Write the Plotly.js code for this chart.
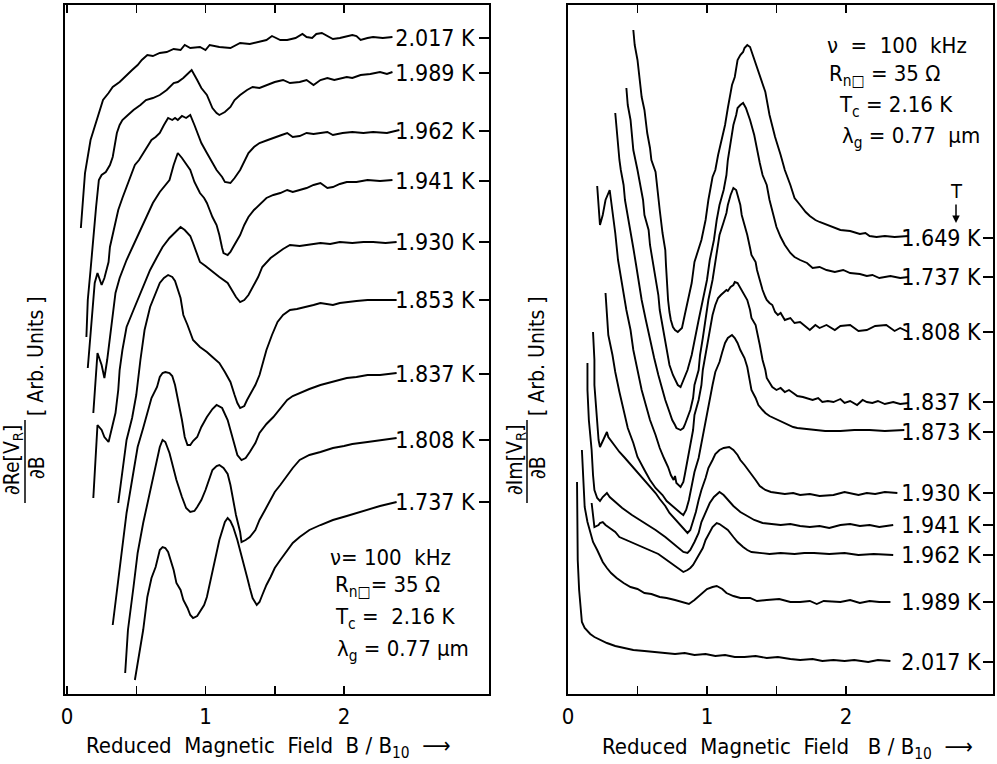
<!DOCTYPE html>
<html>
<head>
<meta charset="utf-8">
<script src="https://cdn.plot.ly/plotly-3.0.1.min.js"></script>
<style>html,body{margin:0;padding:0;background:#fff;}#chart{width:997px;height:764px;}</style>
</head>
<body>
<div id="chart"></div>
<script>
// ---------- LEFT PANEL: dRe[V_R]/dB (x = B/B10, y = arb. units) ----------
const reX_2017 = [0.10,0.13,0.17,0.22,0.26,0.30,0.33,0.38,0.43,0.47,0.51,0.54,0.58,0.62,0.67,0.72,0.77,0.82,0.85,0.89,0.96,1.00,1.03,1.10,1.18,1.25,1.32,1.39,1.44,1.48,1.54,1.59,1.65,1.70,1.73,1.77,1.80,1.84,1.88,1.92,1.97,2.02,2.06,2.09,2.12,2.17,2.21,2.28,2.35];
const reY_2017 = [46.6,52.1,55.4,57.7,59.4,60.1,60.7,61.2,61.9,62.4,62.9,63.4,63.9,63.8,64.1,64.2,64.5,64.4,64.9,64.6,64.7,64.4,64.9,64.7,64.6,65.1,65.0,65.2,65.4,65.8,65.4,65.4,65.6,66.0,65.7,65.6,66.0,66.1,65.8,65.5,65.6,65.8,65.9,65.8,65.4,65.6,65.7,65.6,65.7];

const reX_1989 = [0.14,0.15,0.17,0.18,0.21,0.23,0.25,0.28,0.31,0.33,0.36,0.38,0.40,0.44,0.48,0.53,0.57,0.62,0.67,0.72,0.77,0.80,0.84,0.87,0.90,0.94,0.97,1.01,1.03,1.05,1.08,1.10,1.14,1.18,1.21,1.25,1.30,1.34,1.39,1.44,1.50,1.56,1.61,1.68,1.73,1.78,1.83,1.88,1.93,2.02,2.06,2.12,2.19,2.26,2.31,2.35];
const reY_1989 = [35.7,39.4,42.4,44.1,48.7,51.4,51.9,52.2,52.9,53.7,56.1,56.9,57.4,57.9,58.4,58.9,59.4,59.6,59.9,60.4,61.1,61.2,61.6,62.0,62.4,61.4,60.6,59.9,59.2,58.6,58.1,57.9,58.2,58.7,59.4,59.9,60.4,60.7,60.6,60.9,61.2,61.4,61.1,61.2,61.4,60.9,61.4,61.6,61.4,61.7,61.6,61.9,62.0,62.2,62.0,62.2];

const reX_1962 = [0.15,0.17,0.19,0.20,0.22,0.24,0.25,0.27,0.30,0.31,0.34,0.37,0.40,0.43,0.46,0.49,0.52,0.55,0.58,0.61,0.64,0.67,0.70,0.73,0.76,0.78,0.80,0.83,0.86,0.89,0.92,0.94,0.97,1.01,1.05,1.08,1.12,1.14,1.18,1.21,1.25,1.28,1.31,1.35,1.39,1.45,1.52,1.55,1.59,1.63,1.68,1.73,1.78,1.83,1.88,1.92,1.99,2.06,2.14,2.21,2.31,2.40];
const reY_1962 = [32.6,36.4,39.4,41.1,42.1,41.4,40.9,41.6,43.2,44.7,46.6,48.4,49.6,50.7,51.9,52.9,53.4,54.1,54.7,55.4,55.7,56.1,56.9,57.6,57.4,57.6,57.4,57.8,57.6,57.9,56.9,56.1,55.1,54.1,53.2,52.4,51.7,51.2,51.1,51.6,52.4,53.2,54.1,54.7,55.1,55.4,55.7,55.9,56.1,55.7,55.8,56.1,56.0,56.1,56.2,55.9,56.1,56.2,56.1,56.2,56.1,56.4];

const reX_1941 = [0.19,0.20,0.21,0.22,0.25,0.27,0.29,0.31,0.33,0.35,0.38,0.43,0.48,0.53,0.58,0.62,0.67,0.71,0.74,0.77,0.80,0.83,0.85,0.89,0.92,0.96,0.99,1.01,1.03,1.05,1.08,1.10,1.12,1.13,1.16,1.18,1.20,1.23,1.25,1.28,1.31,1.35,1.39,1.44,1.49,1.54,1.59,1.63,1.68,1.73,1.78,1.83,1.88,1.92,1.97,2.02,2.09,2.17,2.26,2.35];
const reY_1941 = [28.1,30.4,32.6,34.1,32.9,31.6,33.4,35.7,38.1,40.1,41.6,43.4,44.9,46.4,47.9,49.1,50.2,50.9,51.4,52.9,54.1,53.6,53.2,52.4,51.2,50.1,49.6,49.1,48.4,47.7,46.9,45.9,44.6,44.1,43.9,44.2,44.7,45.4,45.9,46.9,47.7,48.4,48.9,49.6,49.9,50.1,50.4,50.2,50.4,50.6,50.9,51.1,50.6,50.7,51.0,51.2,51.2,51.4,51.3,51.4];

const reX_1930 = [0.19,0.20,0.21,0.22,0.25,0.27,0.30,0.32,0.35,0.37,0.38,0.40,0.43,0.48,0.53,0.56,0.60,0.65,0.69,0.74,0.78,0.82,0.85,0.89,0.91,0.94,0.96,1.00,1.05,1.10,1.16,1.19,1.22,1.25,1.28,1.31,1.34,1.38,1.41,1.47,1.52,1.56,1.61,1.68,1.73,1.78,1.83,1.90,1.97,2.06,2.14,2.21,2.30,2.38];
const reY_1930 = [19.6,22.4,24.7,26.9,26.4,25.7,25.2,26.4,28.1,30.4,32.4,34.4,36.7,38.4,40.1,41.2,42.4,43.7,44.7,45.6,46.2,46.7,46.4,45.8,45.1,43.9,43.2,42.8,42.2,41.7,41.1,40.4,39.7,39.2,39.4,39.9,40.7,41.7,42.7,43.6,44.1,44.5,44.9,44.8,44.9,45.0,45.1,45.0,45.2,45.1,45.2,45.2,45.1,45.2];

const reX_1853 = [0.37,0.40,0.43,0.47,0.50,0.53,0.56,0.60,0.64,0.67,0.70,0.73,0.76,0.78,0.82,0.84,0.87,0.89,0.91,0.96,1.01,1.05,1.10,1.14,1.18,1.21,1.23,1.25,1.28,1.30,1.32,1.36,1.39,1.42,1.44,1.48,1.52,1.56,1.61,1.66,1.73,1.78,1.83,1.88,1.92,1.97,2.02,2.09,2.17,2.26,2.38];
const reY_1853 = [19.1,22.4,25.4,27.6,29.9,33.4,36.4,38.7,40.1,41.1,41.6,41.9,41.7,41.3,39.6,37.9,36.9,36.1,35.4,34.7,34.2,33.7,33.1,32.2,31.2,29.9,29.1,28.6,28.8,29.4,29.9,30.9,31.9,33.4,34.4,35.9,37.2,37.9,38.4,38.5,38.7,38.9,39.1,39.0,38.9,39.1,39.2,39.3,39.4,39.4,39.4];

const reX_1837 = [0.33,0.37,0.40,0.43,0.47,0.51,0.55,0.58,0.61,0.65,0.67,0.69,0.71,0.74,0.76,0.78,0.80,0.83,0.85,0.87,0.89,0.91,0.94,0.97,1.01,1.05,1.08,1.12,1.16,1.18,1.20,1.23,1.26,1.29,1.32,1.36,1.39,1.44,1.49,1.54,1.59,1.63,1.68,1.75,1.83,1.92,2.02,2.09,2.17,2.26,2.38];
const reY_1837 = [6.9,11.4,14.7,18.1,21.4,24.7,26.6,28.1,29.6,30.7,31.7,32.1,32.2,32.1,31.8,30.9,29.6,27.4,25.7,24.9,24.9,25.3,25.7,26.7,27.7,28.5,28.9,28.6,27.4,26.4,25.4,23.9,23.4,23.6,24.2,25.1,26.1,27.0,27.7,28.6,29.4,29.8,30.1,30.5,30.9,31.2,31.6,31.7,31.9,31.9,32.1];

const reX_1808 = [0.42,0.44,0.48,0.51,0.55,0.60,0.64,0.67,0.69,0.71,0.74,0.77,0.79,0.83,0.86,0.89,0.92,0.94,0.97,1.00,1.03,1.05,1.08,1.10,1.13,1.16,1.18,1.20,1.22,1.25,1.26,1.29,1.32,1.36,1.39,1.43,1.47,1.50,1.54,1.59,1.63,1.68,1.75,1.83,1.92,2.00,2.06,2.17,2.26,2.38];
const reY_1808 = [2.1,6.4,10.7,14.1,17.1,20.4,22.9,24.7,25.4,25.2,24.1,22.6,21.4,19.7,18.6,18.2,18.3,18.7,19.4,20.4,21.6,22.4,22.8,22.9,22.6,22.0,20.9,19.4,17.9,16.2,15.2,15.4,15.7,16.4,17.4,18.4,19.4,20.2,20.9,21.9,22.6,23.4,23.9,24.2,24.6,24.8,25.0,25.2,25.4,25.6];

const reX_1737 = [0.49,0.51,0.55,0.58,0.61,0.64,0.66,0.67,0.69,0.71,0.73,0.77,0.79,0.82,0.84,0.87,0.89,0.91,0.94,0.96,0.99,1.01,1.03,1.05,1.08,1.10,1.14,1.16,1.18,1.20,1.23,1.25,1.28,1.30,1.32,1.34,1.37,1.39,1.41,1.44,1.47,1.50,1.54,1.59,1.63,1.68,1.75,1.83,1.92,2.02,2.09,2.17,2.26,2.38];
const reY_1737 = [1.4,3.1,6.4,9.7,11.6,12.7,13.8,14.4,14.7,14.6,14.2,12.4,11.1,10.4,9.4,8.6,7.9,7.6,7.8,8.2,8.9,9.7,10.9,12.4,14.1,15.4,17.2,17.6,17.3,16.7,15.4,14.4,12.9,11.7,10.6,9.6,8.9,9.2,9.9,10.9,11.7,12.6,13.4,14.4,15.1,15.7,16.4,16.9,17.4,17.8,18.1,18.4,18.8,19.2];

const reLabels = ['2.017 K','1.989 K','1.962 K','1.941 K','1.930 K','1.853 K','1.837 K','1.808 K','1.737 K'];
const reLabelY = [65.6, 62.1, 56.3, 51.3, 45.2, 39.4, 32.0, 25.4, 19.2];

// ---------- RIGHT PANEL: dIm[V_R]/dB ----------
const imX_1649 = [0.47,0.48,0.50,0.52,0.53,0.55,0.57,0.59,0.60,0.63,0.64,0.66,0.68,0.70,0.705,0.71,0.72,0.73,0.74,0.755,0.77,0.79,0.82,0.84,0.86,0.89,0.91,0.94,0.96,0.99,1.01,1.04,1.06,1.08,1.11,1.13,1.15,1.18,1.20,1.22,1.24,1.26,1.27,1.29,1.31,1.33,1.36,1.40,1.42,1.45,1.49,1.53,1.56,1.60,1.63,1.67,1.71,1.74,1.78,1.81,1.85,1.88,1.96,2.03,2.10,2.14,2.17,2.22,2.28,2.35,2.45];
const imY_1649 = [66.4,64.9,63.4,61.1,59.7,58.4,56.1,54.6,53.4,52.2,51.1,48.4,46.1,44.4,42.9,41.1,39.4,38.2,37.4,36.7,36.4,36.2,36.6,37.9,39.1,41.1,43.2,44.4,45.4,47.4,49.4,51.7,52.4,53.9,55.7,56.9,58.6,60.9,61.7,63.4,63.9,64.2,64.6,64.9,64.7,63.9,62.8,61.2,60.2,57.9,55.7,53.9,52.4,50.9,49.6,48.9,48.2,47.8,47.4,47.2,47.0,46.8,46.4,46.3,46.0,46.1,45.8,45.7,45.8,45.7,45.8];

const imX_1737 = [0.42,0.43,0.45,0.47,0.50,0.52,0.54,0.55,0.58,0.59,0.61,0.63,0.65,0.66,0.68,0.70,0.72,0.73,0.755,0.77,0.79,0.81,0.83,0.86,0.89,0.91,0.94,0.97,1.00,1.02,1.05,1.07,1.09,1.12,1.14,1.15,1.17,1.19,1.21,1.22,1.24,1.26,1.28,1.29,1.31,1.34,1.36,1.38,1.40,1.43,1.45,1.48,1.50,1.53,1.56,1.60,1.63,1.67,1.72,1.76,1.81,1.86,1.92,1.98,2.03,2.10,2.15,2.19,2.24,2.32,2.39,2.45];
const imY_1737 = [60.6,58.9,57.4,54.4,52.4,50.7,49.4,47.9,46.4,44.9,43.2,41.4,39.9,38.4,36.9,35.4,33.9,32.9,31.9,31.4,30.9,30.7,31.4,32.4,33.9,35.4,37.4,39.4,41.4,43.4,45.4,47.4,48.9,50.4,51.9,53.4,55.4,56.9,57.9,58.6,58.9,59.1,58.6,58.2,57.4,55.9,54.4,53.1,51.9,50.9,49.4,47.9,46.7,45.7,44.9,44.1,43.7,43.4,43.1,42.6,42.7,42.4,42.2,42.4,42.1,42.0,41.8,41.9,41.6,41.8,41.6,41.7];

const imX_1808 = [0.34,0.35,0.36,0.37,0.38,0.40,0.41,0.43,0.45,0.47,0.49,0.51,0.53,0.56,0.59,0.62,0.65,0.68,0.70,0.73,0.75,0.77,0.78,0.81,0.83,0.84,0.86,0.88,0.90,0.91,0.94,0.95,0.97,0.99,1.01,1.04,1.06,1.08,1.09,1.12,1.14,1.15,1.17,1.19,1.21,1.22,1.24,1.25,1.27,1.29,1.31,1.32,1.35,1.36,1.38,1.40,1.42,1.43,1.45,1.47,1.49,1.51,1.53,1.56,1.60,1.63,1.67,1.71,1.74,1.78,1.81,1.86,1.92,1.96,2.03,2.09,2.15,2.21,2.29,2.35,2.39,2.45];
const imY_1808 = [58.1,56.4,55.4,53.4,52.4,50.9,49.4,47.9,46.4,44.6,42.9,41.1,39.4,37.4,35.4,33.6,31.9,30.4,29.4,28.2,27.4,26.9,26.6,26.4,26.6,26.9,27.6,28.4,29.6,30.9,32.4,33.9,35.6,37.4,39.4,41.4,43.2,44.9,45.9,47.2,48.1,48.9,49.9,50.6,50.4,49.9,48.9,47.9,46.9,45.9,44.6,43.9,43.2,42.4,41.4,40.4,39.7,39.4,39.1,38.9,38.2,37.9,38.1,37.4,37.6,37.1,37.2,36.7,36.4,36.9,36.6,36.9,36.4,36.8,36.9,36.3,36.4,36.8,36.9,36.3,36.6,36.2];

const imX_1837 = [0.21,0.22,0.23,0.25,0.27,0.30,0.32,0.34,0.36,0.39,0.42,0.45,0.47,0.50,0.53,0.56,0.59,0.63,0.66,0.69,0.72,0.74,0.76,0.77,0.78,0.81,0.83,0.84,0.86,0.88,0.90,0.91,0.94,0.96,0.97,0.99,1.01,1.03,1.04,1.06,1.08,1.10,1.12,1.14,1.15,1.17,1.19,1.20,1.22,1.24,1.25,1.27,1.29,1.31,1.32,1.35,1.36,1.38,1.40,1.42,1.43,1.45,1.47,1.50,1.53,1.56,1.59,1.62,1.65,1.69,1.73,1.76,1.80,1.83,1.87,1.91,1.96,1.99,2.03,2.08,2.12,2.15,2.19,2.23,2.28,2.34,2.39,2.45];
const imY_1837 = [50.8,48.9,46.9,47.9,49.4,50.4,48.4,46.1,43.4,40.7,38.4,36.4,34.4,32.4,30.4,28.9,27.4,25.9,24.6,23.6,22.7,21.9,21.4,21.8,21.1,20.7,21.2,21.9,23.6,24.9,26.4,27.9,29.4,30.9,32.4,33.9,35.4,36.9,37.9,38.9,39.6,39.9,40.2,40.4,40.3,40.7,40.9,41.2,41.1,40.6,40.4,39.8,39.4,38.4,37.6,36.9,36.1,34.9,33.4,32.4,31.6,31.1,30.7,30.4,30.6,30.2,30.4,30.1,29.8,29.7,29.5,29.4,29.6,29.2,29.3,29.2,29.5,29.1,29.3,28.9,29.4,29.2,29.1,29.3,29.0,29.2,29.0,29.1];

const imX_1873 = [0.27,0.28,0.29,0.32,0.34,0.37,0.40,0.43,0.47,0.50,0.55,0.59,0.63,0.68,0.71,0.75,0.78,0.81,0.83,0.85,0.87,0.89,0.91,0.94,0.96,0.98,1.00,1.02,1.04,1.06,1.09,1.11,1.13,1.15,1.18,1.20,1.22,1.24,1.27,1.29,1.31,1.32,1.35,1.37,1.40,1.42,1.45,1.48,1.51,1.55,1.58,1.62,1.65,1.71,1.78,1.85,1.96,2.06,2.17,2.28,2.42];
const imY_1873 = [40.1,37.9,35.9,33.9,32.2,30.2,28.4,26.6,25.1,23.7,22.4,21.4,20.6,19.9,19.3,18.8,18.4,18.1,17.9,18.4,19.4,20.7,22.2,23.6,25.1,26.6,28.2,29.6,30.9,32.2,33.2,34.2,35.1,35.6,35.9,35.6,35.1,34.4,33.6,32.7,31.4,30.4,29.6,28.9,28.4,28.1,27.8,27.6,27.4,27.1,26.9,26.7,26.6,26.5,26.4,26.3,26.3,26.4,26.4,26.3,26.4];

const imX_1930 = [0.18,0.19,0.19,0.20,0.21,0.22,0.23,0.26,0.28,0.29,0.31,0.34,0.37,0.41,0.46,0.50,0.55,0.59,0.63,0.66,0.70,0.73,0.77,0.80,0.83,0.85,0.86,0.88,0.90,0.92,0.94,0.96,0.99,1.01,1.04,1.06,1.09,1.12,1.16,1.19,1.22,1.24,1.27,1.31,1.35,1.38,1.42,1.46,1.50,1.56,1.62,1.67,1.74,1.81,1.91,1.99,2.09,2.15,2.21,2.28,2.37];
const imY_1930 = [36.2,33.4,30.9,28.9,26.9,25.4,24.7,25.6,26.2,25.7,25.3,24.7,24.2,23.6,22.8,22.1,21.4,20.7,20.1,19.5,18.8,18.1,17.5,17.0,16.5,16.2,16.1,16.4,17.2,18.2,19.4,20.4,21.6,22.6,23.4,24.0,24.4,24.6,24.7,24.4,23.9,23.4,22.9,22.2,21.4,20.8,20.4,20.2,20.1,20.0,20.1,19.9,20.0,19.8,19.9,20.2,19.9,20.1,20.0,20.2,20.1];

const imX_1941 = [0.14,0.14,0.15,0.17,0.18,0.19,0.21,0.23,0.25,0.28,0.30,0.34,0.39,0.46,0.52,0.58,0.63,0.70,0.75,0.79,0.83,0.86,0.88,0.91,0.94,0.96,0.99,1.02,1.05,1.07,1.09,1.12,1.15,1.19,1.24,1.29,1.34,1.40,1.45,1.53,1.60,1.67,1.74,1.81,1.88,1.96,2.03,2.10,2.17,2.24,2.34];
const imY_1941 = [33.1,30.4,27.4,24.4,21.9,20.4,19.6,19.3,19.7,20.1,19.7,19.2,18.6,17.9,17.4,16.9,16.4,15.7,15.1,14.6,14.2,14.1,14.4,15.2,16.1,17.2,18.2,19.1,19.7,20.0,20.2,19.9,19.4,18.8,18.2,17.8,17.4,17.1,17.0,16.9,17.0,16.8,16.7,16.8,16.6,16.9,17.0,16.8,16.9,16.7,16.9];

const imX_1962 = [0.17,0.18,0.19,0.22,0.23,0.25,0.27,0.30,0.34,0.37,0.42,0.47,0.52,0.59,0.65,0.71,0.76,0.81,0.83,0.86,0.88,0.90,0.93,0.95,0.97,0.99,1.02,1.04,1.07,1.09,1.12,1.15,1.19,1.22,1.26,1.29,1.32,1.37,1.45,1.53,1.63,1.70,1.77,1.88,1.99,2.09,2.20,2.34];
const imY_1962 = [19.1,17.9,16.7,16.9,17.1,17.2,16.9,16.6,16.2,15.7,15.4,15.1,14.8,14.4,14.0,13.4,12.9,12.4,12.2,12.4,12.6,12.9,13.6,14.1,14.6,15.4,16.2,16.7,17.1,17.0,16.7,16.4,15.7,15.2,14.7,14.4,14.2,14.1,14.0,14.1,14.0,14.1,14.1,14.0,14.1,13.9,14.0,13.9];

const imX_1989 = [0.10,0.11,0.12,0.14,0.16,0.18,0.21,0.23,0.25,0.28,0.31,0.35,0.40,0.45,0.50,0.55,0.60,0.66,0.71,0.77,0.83,0.87,0.91,0.95,0.98,1.00,1.04,1.07,1.11,1.14,1.19,1.24,1.31,1.36,1.43,1.52,1.60,1.67,1.74,1.79,1.84,1.96,2.03,2.10,2.17,2.24,2.32];
const imY_1989 = [24.4,21.4,18.7,17.2,16.1,15.2,14.4,13.8,13.2,12.6,12.1,11.6,11.1,10.7,10.5,10.1,10.0,9.7,9.6,9.4,9.2,9.0,9.4,9.9,10.2,10.5,10.7,10.8,10.5,10.1,9.8,9.6,9.6,9.3,9.4,9.5,9.2,9.2,9.3,9.0,9.3,9.2,9.4,9.1,9.3,9.2,9.2];

const imX_2017 = [0.065,0.066,0.07,0.08,0.09,0.10,0.12,0.16,0.19,0.23,0.28,0.34,0.41,0.47,0.55,0.63,0.71,0.77,0.84,0.91,0.99,1.06,1.13,1.20,1.27,1.35,1.43,1.51,1.60,1.67,1.76,1.83,1.91,1.99,2.06,2.16,2.23,2.32];
const imY_2017 = [21.2,17.4,13.4,10.4,8.4,7.2,6.6,6.0,5.7,5.4,5.1,4.8,4.6,4.4,4.3,4.2,4.1,4.0,4.1,3.9,4.0,3.8,3.9,3.7,3.7,3.8,3.6,3.7,3.5,3.4,3.5,3.3,3.4,3.3,3.4,3.2,3.4,3.3];

const imLabels = ['1.649 K','1.737 K','1.808 K','1.837 K','1.873 K','1.930 K','1.941 K','1.962 K','1.989 K','2.017 K'];
const imLabelY = [45.6, 41.7, 36.2, 29.2, 26.2, 20.1, 16.9, 13.9, 9.2, 3.2];

const xTickVals = [0, 1, 2];
const xTickText = ['0', '1', '2'];
const xMinorStep = 0.5;

// ---------- build ----------
const FONT = "'Liberation Sans Narrow', 'DejaVu Sans Condensed', 'Arial Narrow', sans-serif";
const W = 997, H = 764;
const PX = p => p / W;
const PY = p => 1 - p / H;

const reSeries = [[reX_2017,reY_2017],[reX_1989,reY_1989],[reX_1962,reY_1962],[reX_1941,reY_1941],[reX_1930,reY_1930],[reX_1853,reY_1853],[reX_1837,reY_1837],[reX_1808,reY_1808],[reX_1737,reY_1737]];
const imSeries = [[imX_1649,imY_1649],[imX_1737,imY_1737],[imX_1808,imY_1808],[imX_1837,imY_1837],[imX_1873,imY_1873],[imX_1930,imY_1930],[imX_1941,imY_1941],[imX_1962,imY_1962],[imX_1989,imY_1989],[imX_2017,imY_2017]];

const lineStyle = {color: '#000', width: 1.9};
const traces = [];
reSeries.forEach(([x, y]) => traces.push({type: 'scatter', mode: 'lines', x, y, xaxis: 'x', yaxis: 'y', line: lineStyle, hoverinfo: 'skip', showlegend: false}));
imSeries.forEach(([x, y]) => traces.push({type: 'scatter', mode: 'lines', x, y, xaxis: 'x2', yaxis: 'y2', line: lineStyle, hoverinfo: 'skip', showlegend: false}));

function xAxis(domain, range, anchor) {
  return {
    domain, range, anchor,
    showline: true, linecolor: '#000', linewidth: 1.6, mirror: 'ticks',
    ticks: 'inside', ticklen: 8, tickwidth: 1.5, tickcolor: '#000',
    tickmode: 'array', tickvals: xTickVals, ticktext: xTickText,
    minor: {dtick: xMinorStep, tick0: 0, ticks: 'inside', ticklen: 8, tickwidth: 1.5, tickcolor: '#000', showgrid: false},
    tickfont: {family: FONT, size: 22, color: '#000'}, ticklabelstandoff: 2,
    showgrid: false, zeroline: false, fixedrange: true
  };
}
function yAxis(anchor, vals, text, standoff) {
  return {
    domain: [PY(694), PY(5)], range: [0, 68.9], anchor,
    side: 'right', showline: true, linecolor: '#000', linewidth: 1.6, mirror: true,
    ticks: 'inside', ticklen: 10, tickwidth: 1.5, tickcolor: '#000',
    tickmode: 'array', tickvals: vals, ticktext: text,
    ticklabelposition: 'inside', ticklabelstandoff: standoff,
    tickfont: {family: FONT, size: 23, color: '#000'},
    showgrid: false, zeroline: false, fixedrange: true
  };
}

const txt = (text, x, y, opts) => Object.assign({
  text, xref: 'paper', yref: 'paper', x: PX(x), y: PY(y), showarrow: false,
  xanchor: 'left', yanchor: 'middle', font: {family: FONT, size: 22, color: '#000'}
}, opts || {});
const yTitleFont = {family: FONT, size: 21, color: '#000'};

const annotations = [
  // left parameter block
  txt('ν= 100  kHz', 328, 557),
  txt('R<sub>n□</sub>= 35 Ω', 333, 586),
  txt('T<sub>c</sub> =  2.16 K', 333, 618),
  txt('λ<sub>g</sub> = 0.77 µm', 335, 650),
  // right parameter block
  txt('ν  =  100  kHz', 825, 45),
  txt('R<sub>n□</sub> = 35 Ω', 827, 75),
  txt('T<sub>c</sub> = 2.16 K', 837, 107),
  txt('λ<sub>g</sub> = 0.77  µm', 840, 138),
  // x axis titles
  txt('Reduced  Magnetic  Field  B / B<sub>10</sub>  ⟶', 268, 747, {xanchor: 'center'}),
  txt('Reduced  Magnetic  Field   B / B<sub>10</sub>  ⟶', 787, 748, {xanchor: 'center'}),
  // y axis titles (left)
  txt('∂Re[V<sub>R</sub>]', 13, 460, {xanchor: 'center', textangle: -90, font: yTitleFont}),
  txt('∂B', 37, 468, {xanchor: 'center', textangle: -90, font: yTitleFont}),
  txt('[ Arb. Units ]', 36, 356, {xanchor: 'center', textangle: -90, font: yTitleFont}),
  // y axis titles (right)
  txt('∂Im[V<sub>R</sub>]', 516, 460, {xanchor: 'center', textangle: -90, font: yTitleFont}),
  txt('∂B', 538, 468, {xanchor: 'center', textangle: -90, font: yTitleFont}),
  txt('[ Arb. Units ]', 537, 356, {xanchor: 'center', textangle: -90, font: yTitleFont}),
  // temperature arrow
  {text: 'T', xref: 'paper', yref: 'paper', x: PX(956), y: PY(223), showarrow: true, ax: 0, ay: -32,
   arrowhead: 2, arrowsize: 1, arrowwidth: 1.5, arrowcolor: '#000', standoff: 0,
   font: {family: FONT, size: 20, color: '#000'}}
];

const shapes = [
  {type: 'line', xref: 'paper', yref: 'paper', x0: PX(25), x1: PX(25), y0: PY(420), y1: PY(503), line: {color: '#000', width: 1.5}},
  {type: 'line', xref: 'paper', yref: 'paper', x0: PX(527), x1: PX(527), y0: PY(420), y1: PY(503), line: {color: '#000', width: 1.5}}
];

const layout = {
  width: W, height: H,
  margin: {l: 0, r: 0, t: 0, b: 0, pad: 0},
  paper_bgcolor: '#fff', plot_bgcolor: '#fff',
  showlegend: false,
  font: {family: FONT, color: '#000'},
  xaxis: xAxis([PX(65), PX(489)], [-0.0145, 3.047], 'y'),
  yaxis: yAxis('x', reLabelY, reLabels, 6),
  xaxis2: xAxis([PX(568), PX(993)], [0, 3.058], 'y2'),
  yaxis2: yAxis('x2', imLabelY, imLabels, 4),
  annotations, shapes
};

Plotly.newPlot('chart', traces, layout, {staticPlot: true, displayModeBar: false});
</script>
</body>
</html>
